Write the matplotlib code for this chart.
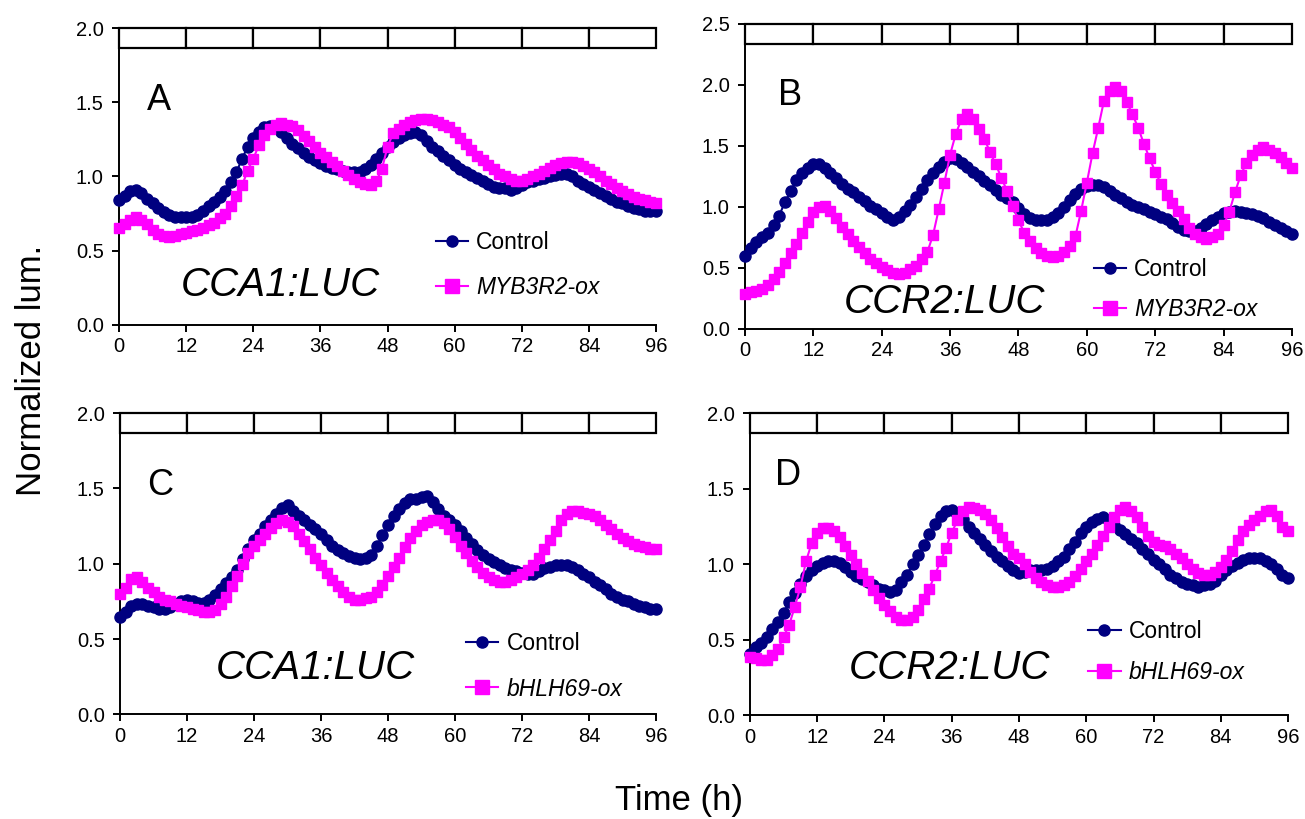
import matplotlib
matplotlib.use("Agg")
import matplotlib.pyplot as plt
from matplotlib.patches import Rectangle
from matplotlib.lines import Line2D
from matplotlib.transforms import blended_transform_factory
import numpy as np

plt.rcParams['font.family'] = ['Liberation Sans', 'DejaVu Sans']

# sampling times (h)
hours = np.arange(0, 97)

# CCA1:LUC, MYB3R2-ox experiment
ctrl_a = [0.84, 0.87, 0.90, 0.91, 0.89, 0.85, 0.82, 0.79, 0.76, 0.74, 0.73, 0.73, 0.73, 0.73, 0.74, 0.77,
          0.80, 0.83, 0.86, 0.90, 0.96, 1.03, 1.12, 1.20, 1.26, 1.30, 1.33, 1.34, 1.34, 1.30, 1.26, 1.22,
          1.19, 1.16, 1.13, 1.11, 1.09, 1.07, 1.06, 1.05, 1.04, 1.03, 1.03, 1.03, 1.05, 1.08, 1.12, 1.16,
          1.20, 1.23, 1.26, 1.28, 1.29, 1.30, 1.28, 1.24, 1.20, 1.17, 1.14, 1.11, 1.08, 1.05, 1.03, 1.01,
          0.99, 0.97, 0.95, 0.93, 0.92, 0.92, 0.91, 0.92, 0.94, 0.96, 0.97, 0.98, 0.99, 1.00, 1.01, 1.02,
          1.02, 1.00, 0.97, 0.95, 0.93, 0.91, 0.89, 0.87, 0.85, 0.83, 0.82, 0.80, 0.79, 0.78, 0.77, 0.77,
          0.77]
myb_a = [0.65, 0.68, 0.71, 0.73, 0.71, 0.68, 0.64, 0.61, 0.60, 0.59, 0.60, 0.61, 0.62, 0.63, 0.64, 0.65,
         0.67, 0.69, 0.72, 0.75, 0.80, 0.87, 0.94, 1.04, 1.12, 1.21, 1.28, 1.32, 1.35, 1.36, 1.35, 1.34,
         1.31, 1.27, 1.24, 1.20, 1.16, 1.13, 1.10, 1.07, 1.04, 1.01, 0.98, 0.96, 0.95, 0.94, 0.97, 1.05,
         1.20, 1.29, 1.32, 1.35, 1.37, 1.38, 1.39, 1.39, 1.38, 1.37, 1.35, 1.33, 1.30, 1.26, 1.22, 1.18,
         1.14, 1.11, 1.08, 1.05, 1.02, 1.00, 0.98, 0.97, 0.97, 0.98, 1.00, 1.02, 1.04, 1.06, 1.08, 1.09,
         1.10, 1.10, 1.09, 1.07, 1.05, 1.03, 1.00, 0.97, 0.95, 0.92, 0.90, 0.88, 0.86, 0.85, 0.84, 0.83,
         0.82]

# CCR2:LUC, MYB3R2-ox experiment
ctrl_b = [0.60, 0.66, 0.71, 0.75, 0.79, 0.85, 0.93, 1.04, 1.13, 1.22, 1.28, 1.32, 1.35, 1.35, 1.32, 1.28,
          1.24, 1.19, 1.15, 1.12, 1.08, 1.05, 1.01, 0.98, 0.95, 0.92, 0.89, 0.92, 0.97, 1.02, 1.08, 1.15,
          1.22, 1.28, 1.33, 1.37, 1.40, 1.39, 1.36, 1.33, 1.29, 1.25, 1.21, 1.18, 1.14, 1.10, 1.07, 1.04,
          0.99, 0.94, 0.91, 0.89, 0.89, 0.89, 0.92, 0.95, 1.00, 1.06, 1.11, 1.15, 1.17, 1.18, 1.18, 1.16,
          1.13, 1.10, 1.07, 1.04, 1.02, 1.00, 0.98, 0.96, 0.94, 0.92, 0.90, 0.87, 0.84, 0.81, 0.80, 0.80,
          0.83, 0.86, 0.89, 0.92, 0.95, 0.96, 0.97, 0.96, 0.95, 0.94, 0.93, 0.91, 0.88, 0.85, 0.83, 0.80,
          0.78]
myb_b = [0.29, 0.30, 0.31, 0.33, 0.36, 0.41, 0.47, 0.54, 0.62, 0.70, 0.79, 0.88, 0.96, 1.00, 1.01, 0.97,
         0.91, 0.84, 0.78, 0.72, 0.67, 0.62, 0.57, 0.54, 0.51, 0.48, 0.46, 0.45, 0.46, 0.49, 0.52, 0.57,
         0.63, 0.77, 0.98, 1.20, 1.43, 1.60, 1.72, 1.76, 1.72, 1.64, 1.56, 1.45, 1.35, 1.24, 1.13, 1.01,
         0.89, 0.79, 0.72, 0.66, 0.62, 0.60, 0.59, 0.60, 0.63, 0.68, 0.76, 0.97, 1.20, 1.44, 1.65, 1.87,
         1.95, 1.98, 1.95, 1.86, 1.76, 1.65, 1.52, 1.40, 1.29, 1.19, 1.10, 1.03, 0.97, 0.90, 0.83, 0.78,
         0.75, 0.74, 0.75, 0.78, 0.85, 0.96, 1.12, 1.26, 1.36, 1.43, 1.47, 1.49, 1.47, 1.44, 1.41, 1.36,
         1.32]

# CCA1:LUC, bHLH69-ox experiment
ctrl_c = [0.65, 0.68, 0.72, 0.73, 0.73, 0.72, 0.71, 0.70, 0.70, 0.71, 0.73, 0.75, 0.76, 0.75, 0.74, 0.74,
          0.76, 0.79, 0.83, 0.87, 0.91, 0.96, 1.03, 1.10, 1.16, 1.20, 1.25, 1.29, 1.33, 1.37, 1.39, 1.35,
          1.32, 1.29, 1.26, 1.23, 1.20, 1.16, 1.12, 1.09, 1.07, 1.05, 1.04, 1.03, 1.04, 1.06, 1.12, 1.19,
          1.26, 1.32, 1.36, 1.40, 1.43, 1.43, 1.44, 1.45, 1.41, 1.36, 1.32, 1.29, 1.26, 1.22, 1.17, 1.13,
          1.09, 1.06, 1.03, 1.01, 0.99, 0.97, 0.96, 0.95, 0.94, 0.93, 0.93, 0.95, 0.97, 0.98, 0.99, 0.99,
          0.99, 0.98, 0.96, 0.93, 0.91, 0.88, 0.86, 0.83, 0.80, 0.78, 0.76, 0.75, 0.73, 0.72, 0.71, 0.70,
          0.70]
bhlh_c = [0.80, 0.84, 0.90, 0.91, 0.88, 0.84, 0.81, 0.78, 0.76, 0.75, 0.73, 0.72, 0.71, 0.70, 0.69, 0.68,
          0.68, 0.69, 0.73, 0.78, 0.85, 0.92, 1.00, 1.07, 1.12, 1.16, 1.20, 1.24, 1.27, 1.29, 1.28, 1.25,
          1.20, 1.15, 1.10, 1.04, 0.99, 0.94, 0.89, 0.85, 0.81, 0.78, 0.76, 0.76, 0.77, 0.78, 0.81, 0.86,
          0.92, 0.98, 1.04, 1.11, 1.17, 1.22, 1.26, 1.28, 1.29, 1.29, 1.27, 1.23, 1.18, 1.12, 1.07, 1.02,
          0.98, 0.94, 0.91, 0.89, 0.88, 0.88, 0.89, 0.91, 0.93, 0.96, 0.99, 1.04, 1.10, 1.16, 1.22, 1.29,
          1.33, 1.35, 1.35, 1.34, 1.33, 1.32, 1.29, 1.26, 1.23, 1.20, 1.17, 1.15, 1.13, 1.12, 1.11, 1.10,
          1.10]

# CCR2:LUC, bHLH69-ox experiment
ctrl_d = [0.41, 0.45, 0.48, 0.52, 0.57, 0.62, 0.68, 0.75, 0.81, 0.87, 0.92, 0.96, 0.99, 1.01, 1.02, 1.02,
          1.01, 0.98, 0.95, 0.92, 0.90, 0.88, 0.86, 0.84, 0.83, 0.82, 0.83, 0.88, 0.93, 1.00, 1.06, 1.13,
          1.20, 1.27, 1.32, 1.35, 1.36, 1.34, 1.30, 1.25, 1.21, 1.17, 1.13, 1.09, 1.05, 1.02, 0.99, 0.96,
          0.94, 0.95, 0.96, 0.96, 0.96, 0.97, 0.99, 1.02, 1.05, 1.10, 1.15, 1.21, 1.25, 1.28, 1.30, 1.31,
          1.29, 1.26, 1.23, 1.20, 1.17, 1.14, 1.10, 1.07, 1.03, 1.00, 0.97, 0.93, 0.91, 0.88, 0.87, 0.86,
          0.85, 0.86, 0.87, 0.89, 0.93, 0.96, 0.99, 1.01, 1.03, 1.04, 1.04, 1.04, 1.02, 1.00, 0.97, 0.93,
          0.91]
bhlh_d = [0.39, 0.38, 0.37, 0.37, 0.40, 0.44, 0.52, 0.60, 0.72, 0.85, 1.02, 1.14, 1.21, 1.24, 1.24, 1.22,
          1.18, 1.12, 1.06, 1.00, 0.94, 0.89, 0.83, 0.78, 0.73, 0.69, 0.65, 0.63, 0.63, 0.65, 0.70, 0.77,
          0.84, 0.93, 1.02, 1.11, 1.21, 1.29, 1.35, 1.38, 1.37, 1.36, 1.33, 1.29, 1.24, 1.18, 1.12, 1.07,
          1.04, 1.00, 0.95, 0.91, 0.88, 0.86, 0.85, 0.85, 0.86, 0.88, 0.92, 0.97, 1.02, 1.07, 1.13, 1.19,
          1.25, 1.31, 1.36, 1.38, 1.35, 1.31, 1.25, 1.19, 1.15, 1.13, 1.12, 1.10, 1.07, 1.04, 1.00, 0.97,
          0.94, 0.93, 0.93, 0.95, 0.98, 1.03, 1.09, 1.16, 1.22, 1.26, 1.29, 1.32, 1.35, 1.36, 1.32, 1.25,
          1.22]

hour_ticks = [0, 12, 24, 36, 48, 60, 72, 84, 96]
navy = '#000080'
magenta = '#FF00FF'


def draw_panel(rect, ctrl, ox, ox_label, ymax, letter, letter_xy, reporter, reporter_xy, leg_xy, leg_gap):
    ax = fig.add_axes(rect)
    ax.plot(hours, ctrl, color=navy, marker='o', ms=8, lw=1.5, mec=navy, clip_on=False, zorder=3)
    ax.plot(hours, ox, color=magenta, marker='s', ms=7.2, lw=1.5, mec=magenta, clip_on=False, zorder=4)
    ax.set_xlim(0, 96)
    ax.set_ylim(0, ymax)
    ax.set_xticks(hour_ticks)
    ax.set_yticks(np.arange(0, ymax + 0.01, 0.5))
    ax.yaxis.set_major_formatter(matplotlib.ticker.FormatStrFormatter('%.1f'))
    for side in ('top', 'right'):
        ax.spines[side].set_visible(False)
    for side in ('left', 'bottom'):
        ax.spines[side].set_linewidth(1.4)
    ax.tick_params(direction='out', length=5, width=1.4, labelsize=14.5)
    ax.tick_params(axis='y', pad=6)
    ax.tick_params(axis='x', pad=4)

    # light/dark bar across the top: 12 h blocks
    tr = blended_transform_factory(ax.transData, ax.transAxes)
    bar_h = 0.066
    for x0 in hour_ticks[:-1]:
        ax.add_patch(Rectangle((x0, 1 - bar_h), 12, bar_h, transform=tr, facecolor='white',
                               edgecolor='black', lw=1.6, clip_on=False, zorder=5))

    ax.text(letter_xy[0], letter_xy[1], letter, transform=ax.transAxes, fontsize=26,
            ha='left', va='baseline')
    ax.text(reporter_xy[0], reporter_xy[1], reporter, transform=ax.transAxes, fontsize=29,
            style='italic', ha='center', va='center')

    handles = [Line2D([], [], color=navy, marker='o', ms=8, lw=1.5),
               Line2D([], [], color=magenta, marker='s', ms=10, lw=1.5)]
    leg = ax.legend(handles, ['Control', ox_label], loc='upper left', bbox_to_anchor=leg_xy,
                    frameon=False, fontsize=16.5, handlelength=1.4, handletextpad=0.35,
                    labelspacing=leg_gap, borderpad=0, borderaxespad=0)
    leg.get_texts()[1].set_style('italic')
    return ax


fig = plt.figure(figsize=(13.05, 8.19), dpi=100)

draw_panel([0.0912, 0.6032, 0.4115, 0.3626], ctrl_a, myb_a, 'MYB3R2-ox', 2.0,
           'A', (0.052, 0.724), 'CCA1:LUC', (0.30, 0.135), (0.590, 0.318), 1.0)
draw_panel([0.5709, 0.5983, 0.4191, 0.3724], ctrl_b, myb_b, 'MYB3R2-ox', 2.5,
           'B', (0.06, 0.734), 'CCR2:LUC', (0.365, 0.09), (0.638, 0.232), 0.75)
draw_panel([0.0920, 0.1276, 0.4107, 0.3681], ctrl_c, bhlh_c, 'bHLH69-ox', 2.0,
           'C', (0.050, 0.728), 'CCA1:LUC', (0.365, 0.155), (0.646, 0.275), 1.0)
draw_panel([0.5747, 0.1264, 0.4123, 0.3691], ctrl_d, bhlh_d, 'bHLH69-ox', 2.0,
           'D', (0.046, 0.763), 'CCR2:LUC', (0.37, 0.157), (0.629, 0.316), 0.8)

fig.text(0.0245, 0.548, 'Normalized lum.', rotation=90, fontsize=25, ha='center', va='center')
fig.text(0.520, 0.023, 'Time (h)', fontsize=25, ha='center', va='center')

fig.savefig('out.png', dpi=100)
